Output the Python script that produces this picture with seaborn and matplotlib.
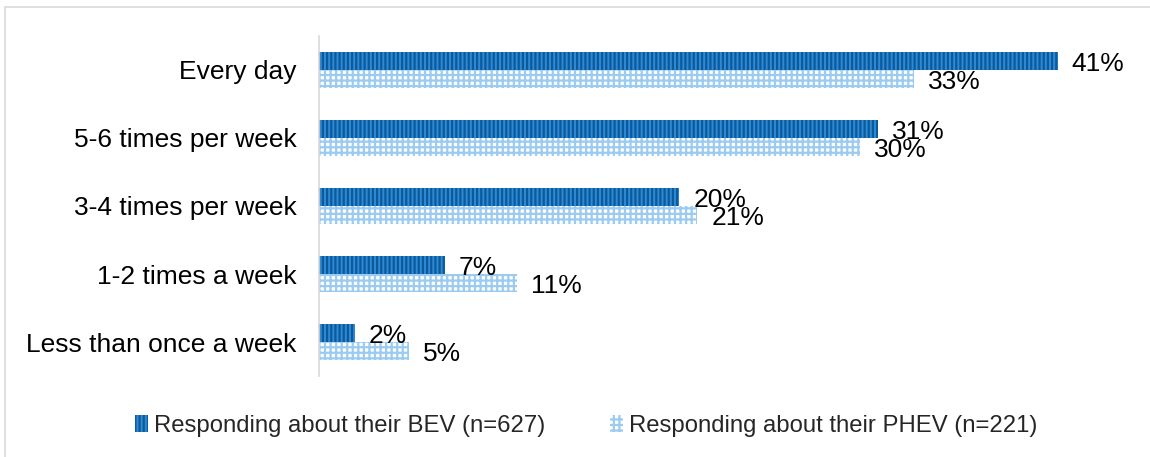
import matplotlib
matplotlib.use("Agg")
import matplotlib.pyplot as plt
import pandas as pd
import seaborn as sns
from matplotlib.patches import Patch, Rectangle

# data
categories = ["Every day", "5-6 times per week", "3-4 times per week",
              "1-2 times a week", "Less than once a week"]
bev = [41, 31, 20, 7, 2]
phev = [33, 30, 21, 11, 5]
series = ["Responding about their BEV (n=627)", "Responding about their PHEV (n=221)"]

df = pd.DataFrame({
    "freq": categories * 2,
    "pct": bev + phev,
    "group": [series[0]] * len(categories) + [series[1]] * len(categories),
})

sns.set_style("white")
plt.rcParams["font.family"] = ["Liberation Sans", "DejaVu Sans"]
plt.rcParams["hatch.linewidth"] = 1.6

# (face, hatch colour, hatch pattern) per series
styles = [("#2f8ad4", "#0b5a9c", "||||"), ("white", "#9ccbf1", "+++")]

fig = plt.figure(figsize=(11.5, 4.57), dpi=100)
ax = fig.add_axes([319 / 1150, 1 - 376 / 457, 811 / 1150, 340 / 457])

sns.barplot(data=df, x="pct", y="freq", hue="group", orient="h",
            palette=[s[0] for s in styles], width=0.53, legend=False, ax=ax)

for cont, (fc, hc, h) in zip(ax.containers, styles):
    for bar in cont:
        bar.set_facecolor(fc)
        bar.set_edgecolor(hc)
        bar.set_hatch(h)
        bar.set_linewidth(0)
    texts = ax.bar_label(cont, labels=[f"{int(v)}%" for v in cont.datavalues],
                         padding=10, fontsize=19, color="black")
    for t in texts:
        t.xyann = (10, -2.2)

ax.set_xlim(0, 45)
ax.set_xlabel("")
ax.set_ylabel("")
ax.set_xticks([])
ax.tick_params(axis="y", length=0, pad=16, labelsize=19, labelcolor="black")
for s in ["top", "right", "bottom"]:
    ax.spines[s].set_visible(False)
ax.spines["left"].set_color("#d9d9d9")
ax.spines["left"].set_linewidth(1.2)

handles = [Patch(facecolor=fc, edgecolor=hc, hatch=h, linewidth=0, label=lab)
           for (fc, hc, h), lab in zip(styles, series)]
fig.legend(handles=handles, loc="center", bbox_to_anchor=(586 / 1150, 1 - 426 / 457),
           ncol=2, frameon=False, fontsize=17.2, handlelength=0.55, handleheight=0.75,
           handletextpad=0.25, columnspacing=2.7)

# thin grey frame around the chart area
fig.patches.append(Rectangle((5 / 1150, -0.1), 1.2, 1.1 - 7 / 457,
                             transform=fig.transFigure, fill=False,
                             edgecolor="#d9d9d9", linewidth=1.2))

fig.savefig("out.png", dpi=100)
